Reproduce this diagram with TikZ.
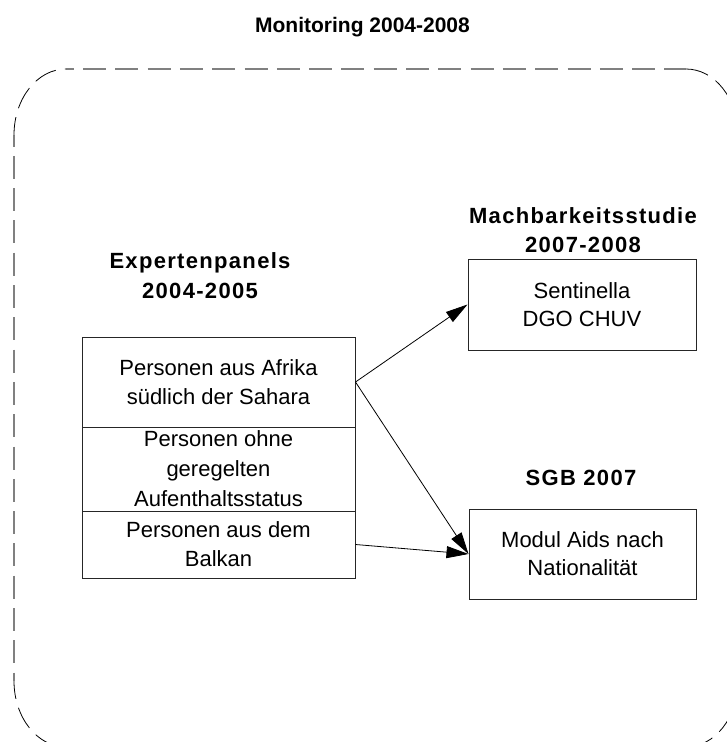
\documentclass[tikz,border=0pt]{standalone}
\usepackage{fontspec}
\setmainfont{Liberation Sans}
\usetikzlibrary{arrows.meta}
\begin{document}
\begin{tikzpicture}[x=1pt,y=-1pt,
  txt/.style={font=\fontsize{22}{29}\selectfont, align=center, inner sep=0pt},
  hdr/.style={font=\fontsize{22}{30}\selectfont\bfseries\addfontfeatures{LetterSpace=6}, align=center, inner sep=0pt},
  ttl/.style={font=\fontsize{21}{26}\selectfont\bfseries, inner sep=0pt},
  boxed/.style={draw=black!85, line width=1pt, rectangle, txt},
  conn/.style={draw=black, line width=0.8pt, -{Triangle[length=22pt,width=12pt]}},
  framel/.style={draw=black!50, line width=1.3pt, dash pattern=on 23pt off 9.3pt},
  framea/.style={draw=black, line width=0.8pt, dash pattern=on 23pt off 9.3pt}]
\useasboundingbox (0,0) rectangle (727,742);
\begin{scope}
\clip (0,0) rectangle (727,742);
% straight edges
\draw[framel, dash phase=15.3pt] (66,69) -- (686,69);
\draw[framel, dash phase=11.5pt] (14,135) -- (14,681);
\draw[framel] (738,135) -- (738,681);
\draw[framel] (686,747) -- (66,747);
% rounded corners
\draw[framea, dash phase=5pt] (14,135) .. controls (14,98.55) and (37.28,69) .. (66,69);
\draw[framea] (686,69) .. controls (714.72,69) and (738,98.55) .. (738,135);
\draw[framea] (738,681) .. controls (738,717.45) and (714.72,747) .. (686,747);
\draw[framea, dash phase=5pt] (14,681) .. controls (14,717.45) and (37.28,747) .. (66,747);
\end{scope}

\node[ttl, anchor=base] (title) at (362.5,32) {Monitoring 2004-2008};

\node[hdr, anchor=north] (hexp) at (200,252) {Expertenpanels\\2004-2005};
\node[hdr, anchor=north, font=\fontsize{22}{29}\selectfont\bfseries\addfontfeatures{LetterSpace=6}] (hmach) at (583,207) {Machbarkeitsstudie\\2007-2008};
\node[hdr, anchor=base] (hsgb) at (581,485) {SGB 2007};

\node[boxed, minimum width=273pt, minimum height=90pt] (lp1) at (218.5,382) {Personen aus Afrika\\südlich der Sahara};
\node[boxed, minimum width=273pt, minimum height=84pt, font=\fontsize{22}{30}\selectfont] (lp2) at (218.5,469) {Personen ohne\\geregelten\\Aufenthaltsstatus};
\node[boxed, minimum width=273pt, minimum height=67pt] (lp3) at (218.5,544.5) {Personen aus dem\\Balkan};

\node[boxed, minimum width=228pt, minimum height=91pt, font=\fontsize{22}{27.5}\selectfont] (b1) at (582,304.5) {Sentinella\\DGO CHUV};
\node[boxed, minimum width=227pt, minimum height=90pt, font=\fontsize{22}{28}\selectfont] (b2) at (582.5,554) {Modul Aids nach\\Nationalität};

\draw[conn] (lp1.east) -- (b1.west);
\draw[conn] (lp1.east) -- (b2.west);
\draw[conn] (lp3.east) -- (b2.west);
\end{tikzpicture}
\end{document}
